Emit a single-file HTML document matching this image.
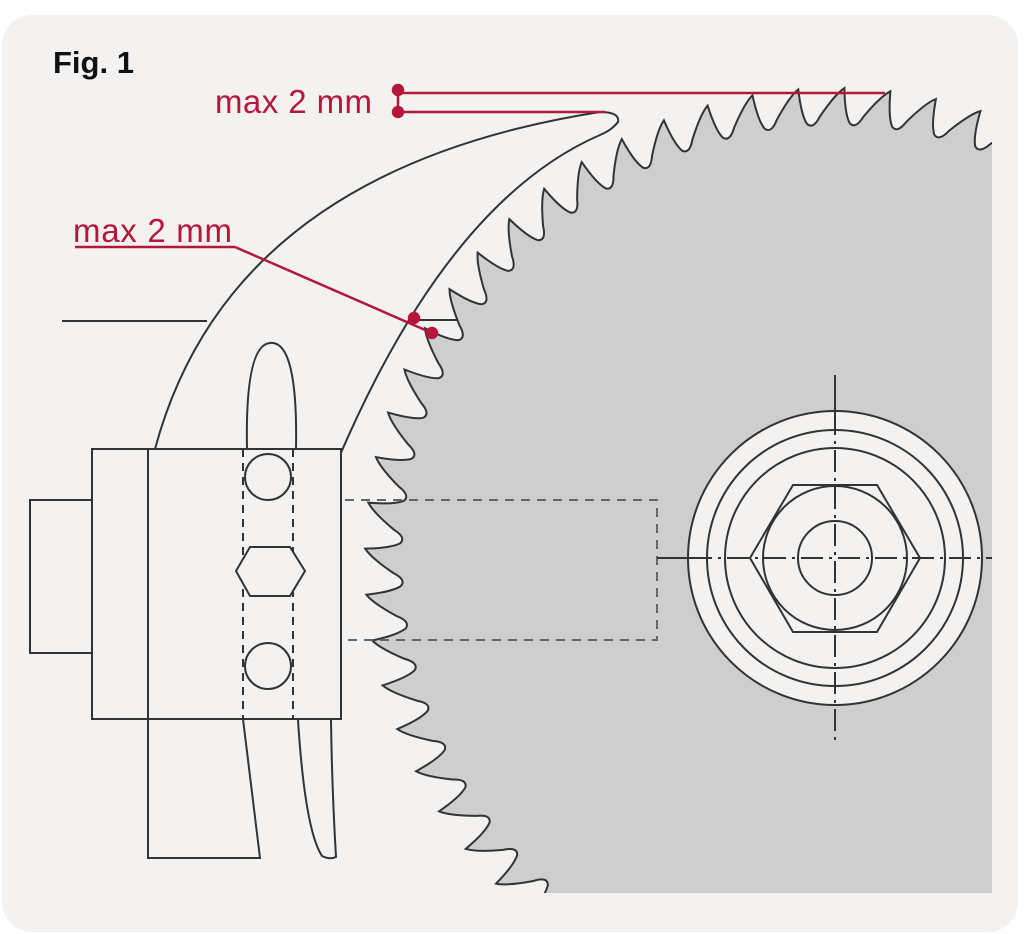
<!DOCTYPE html>
<html><head><meta charset="utf-8"><style>
html,body{margin:0;padding:0;background:#fff;overflow:hidden;width:1024px;height:934px;}
svg{display:block;}
text{font-family:"Liberation Sans",sans-serif;}
</style></head><body>
<svg id="s" width="1024" height="934" viewBox="0 0 1024 934" xmlns="http://www.w3.org/2000/svg">
<defs><clipPath id="c"><rect x="0" y="0" width="992" height="893"/></clipPath></defs>
<rect x="2" y="15" width="1016" height="917" rx="30" fill="#f3f2f1"/>
<g clip-path="url(#c)"><path id="blade" d="" fill="#cecece" stroke="#333" stroke-width="2"/></g>
<g fill="none" stroke="#333" stroke-width="2">
<path d="M345,500 H657 V640 H345" stroke="#666" stroke-dasharray="9,7"/>
<circle cx="835" cy="558" r="147" fill="#f3f2f1"/>
<circle cx="835" cy="558" r="128"/>
<circle cx="835" cy="558" r="110"/>
<polygon points="750,558 793,485 877,485 920,558 877,632 793,632"/>
<circle cx="835" cy="558" r="72"/>
<circle cx="835" cy="558" r="37"/>
<line x1="835" y1="375" x2="835" y2="413"/>
<line x1="835" y1="413" x2="835" y2="745" stroke-dasharray="22,6,3,6"/>
<line x1="657" y1="558" x2="690" y2="558"/>
<line x1="690" y1="558" x2="992" y2="558" stroke-dasharray="22,6,3,6"/>
<path d="M155,449 Q230,170 600,112 Q620,112 618,122 Q612,130 600,135 Q450,200 340,455"/>
<line x1="62" y1="321" x2="207" y2="321"/>
<line x1="415" y1="320" x2="458" y2="320"/>
<rect x="92" y="449" width="249" height="270" fill="#f3f2f1"/>
<line x1="148" y1="449" x2="148" y2="719"/>
<rect x="30" y="500" width="62" height="153" fill="#f3f2f1"/>
<path d="M148,719 V858 H260 L243,719"/>
<path d="M298,720 Q305,830 322,856 Q330,860 336,857 Q332,790 331,720"/>
<path d="M247,449 Q245,345 270,343 Q298,340 296,449"/>
<line x1="243" y1="449" x2="243" y2="719" stroke-dasharray="8,6"/>
<line x1="293" y1="449" x2="293" y2="719" stroke-dasharray="8,6"/>
<circle cx="268" cy="477" r="23" fill="#f3f2f1"/>
<circle cx="268" cy="666" r="23" fill="#f3f2f1"/>
<polygon points="236,571 250,547 290,547 305,571 290,596 250,596" fill="#f3f2f1"/>
</g>
<g stroke="#b3173a" stroke-width="2.5" fill="#b3173a">
<line x1="398" y1="93" x2="885" y2="93"/>
<line x1="398" y1="112" x2="605" y2="112"/>
<line x1="398" y1="90" x2="398" y2="112"/>
<circle cx="398" cy="90" r="5"/><circle cx="398" cy="112" r="5"/>
<line x1="75" y1="247" x2="235" y2="247"/>
<line x1="235" y1="247" x2="432" y2="333"/>
<circle cx="414" cy="318" r="5"/><circle cx="432" cy="333" r="5"/>
</g>
<text x="215" y="113" font-size="33" fill="#b3173a" textLength="157" lengthAdjust="spacing">max 2 mm</text>
<text x="73" y="242" font-size="33" fill="#b3173a" textLength="159" lengthAdjust="spacing">max 2 mm</text>
<text x="53" y="73" font-size="31" font-weight="bold" fill="#111">Fig. 1</text>
</svg>
<script>
(function(){
var cx=835,cy=558,Rt=470,Rg=434,N=64,step=2*Math.PI/N,d="";
function P(a,r){return (cx+r*Math.cos(a)).toFixed(1)+","+(cy+r*Math.sin(a)).toFixed(1);}
var a0=-Math.PI/2+0.02;
for(var k=0;k<N;k++){
 var a=a0+k*step;
 if(k==0)d+="M"+P(a,Rt);
 d+=" Q"+P(a+step*0.02,Rg+10)+" "+P(a+step*0.14,Rg+1);
 d+=" Q"+P(a+step*0.28,Rg-5)+" "+P(a+step*0.45,Rg+8);
 d+=" Q"+P(a+step*0.8,Rt-6)+" "+P(a+step,Rt);
}
d+="Z";
document.getElementById("blade").setAttribute("d",d);
})();
</script>
</body></html>
